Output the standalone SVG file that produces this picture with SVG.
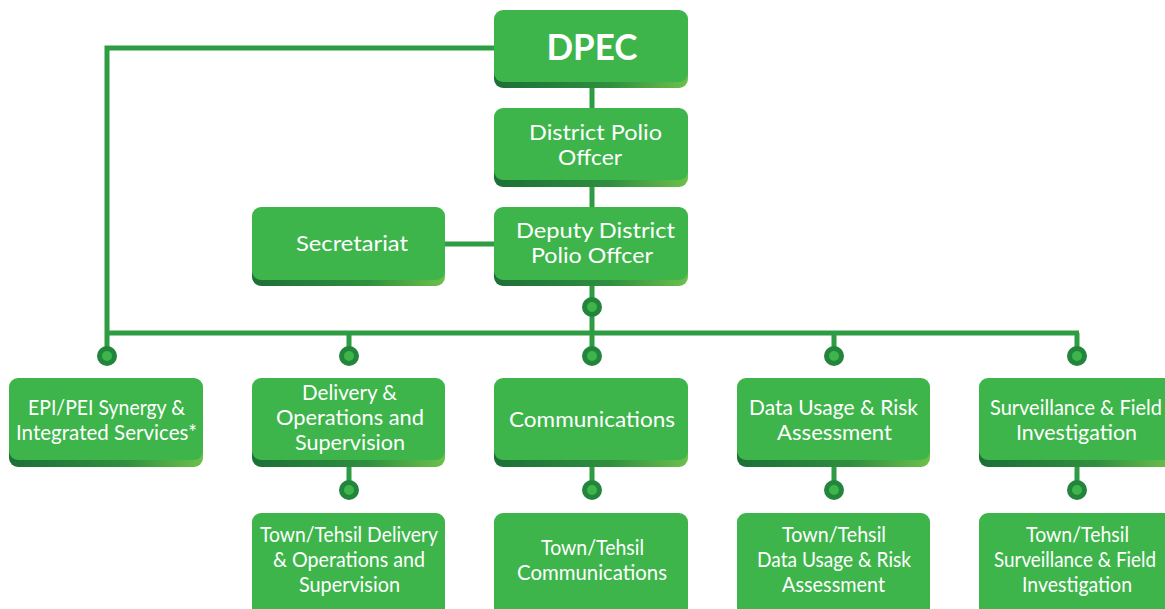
<svg xmlns="http://www.w3.org/2000/svg" width="1165" height="609" viewBox="0 0 1165 609">
<defs>
<linearGradient id="sh" x1="0" y1="0" x2="1" y2="0">
<stop offset="0" stop-color="#1c6f36"/>
<stop offset="0.6" stop-color="#2f8f3f"/>
<stop offset="1" stop-color="#6cc04a"/>
</linearGradient>
<style>
.face{fill:#3db54b}
.shadow{fill:url(#sh)}
.t{fill:#ffffff;font-family:Lato,"Open Sans","Liberation Sans",sans-serif;font-size:22px;text-anchor:middle}
.s{font-size:21px}
.big{font-size:36px;font-weight:bold}
.ln{stroke:#2e9c43;stroke-width:5;fill:none}
.dot{fill:#3db54b;stroke:#23853b;stroke-width:5}
</style>
</defs>
<rect width="1165" height="609" fill="#ffffff"/>
<g id="connectors">
<path class="ln" d="M494 48 H107 V333 M592 88 V108 M592 187 V207 M445 244 H494 M592 286 V298 M592 316 V333 M105 333 H1079 M107 333 V347 M349 333 V347 M592 333 V347 M834 333 V347 M1077 333 V347 M349 467 V481 M592 467 V481 M834 467 V481 M1077 467 V481"/>
<circle class="dot" cx="592" cy="307" r="7.5"/>
<circle class="dot" cx="107" cy="356" r="7.5"/>
<circle class="dot" cx="349" cy="356" r="7.5"/>
<circle class="dot" cx="592" cy="356" r="7.5"/>
<circle class="dot" cx="834" cy="356" r="7.5"/>
<circle class="dot" cx="1077" cy="356" r="7.5"/>
<circle class="dot" cx="349" cy="490" r="7.5"/>
<circle class="dot" cx="592" cy="490" r="7.5"/>
<circle class="dot" cx="834" cy="490" r="7.5"/>
<circle class="dot" cx="1077" cy="490" r="7.5"/>
</g>
<g id="dpec">
<rect class="shadow" x="494" y="16" width="194" height="72" rx="9"/>
<rect class="face" x="494" y="10" width="194" height="72" rx="9"/>
<text class="t big" x="592" y="60" textLength="91" lengthAdjust="spacingAndGlyphs">DPEC</text>
</g>
<g id="dpo">
<rect class="shadow" x="494" y="115" width="194" height="72" rx="9"/>
<rect class="face" x="494" y="108" width="194" height="72" rx="9"/>
<text class="t" x="595.5" y="140" textLength="133" lengthAdjust="spacingAndGlyphs">District Polio</text>
<text class="t" x="590" y="165" textLength="64" lengthAdjust="spacingAndGlyphs">Offcer</text>
</g>
<g id="secretariat">
<rect class="shadow" x="252" y="214" width="193" height="72" rx="9"/>
<rect class="face" x="252" y="207" width="193" height="73" rx="9"/>
<text class="t" x="352" y="251" textLength="112" lengthAdjust="spacingAndGlyphs">Secretariat</text>
</g>
<g id="ddpo">
<rect class="shadow" x="494" y="214" width="194" height="72" rx="9"/>
<rect class="face" x="494" y="207" width="194" height="73" rx="9"/>
<text class="t" x="595.5" y="238" textLength="159" lengthAdjust="spacingAndGlyphs">Deputy District</text>
<text class="t" x="592" y="263" textLength="122" lengthAdjust="spacingAndGlyphs">Polio Offcer</text>
</g>
<g id="epi">
<rect class="shadow" x="9" y="385" width="194" height="82" rx="9"/>
<rect class="face" x="9" y="378" width="194" height="82" rx="9"/>
<text class="t" x="106.5" y="415" textLength="157" lengthAdjust="spacingAndGlyphs">EPI/PEI Synergy &amp;</text>
<text class="t" x="106.5" y="440" textLength="181" lengthAdjust="spacingAndGlyphs">Integrated Services*</text>
</g>
<g id="delivery">
<rect class="shadow" x="252" y="385" width="193" height="82" rx="9"/>
<rect class="face" x="252" y="378" width="193" height="82" rx="9"/>
<text class="t" x="349.5" y="400" textLength="95" lengthAdjust="spacingAndGlyphs">Delivery &amp;</text>
<text class="t" x="350" y="425" textLength="148" lengthAdjust="spacingAndGlyphs">Operations and</text>
<text class="t" x="350" y="450" textLength="110" lengthAdjust="spacingAndGlyphs">Supervision</text>
</g>
<g id="communications">
<rect class="shadow" x="494" y="385" width="194" height="82" rx="9"/>
<rect class="face" x="494" y="378" width="194" height="82" rx="9"/>
<text class="t" x="592" y="427" textLength="166" lengthAdjust="spacingAndGlyphs">Communications</text>
</g>
<g id="data">
<rect class="shadow" x="737" y="385" width="193" height="82" rx="9"/>
<rect class="face" x="737" y="378" width="193" height="82" rx="9"/>
<text class="t" x="833.5" y="415" textLength="169" lengthAdjust="spacingAndGlyphs">Data Usage &amp; Risk</text>
<text class="t" x="834.5" y="440" textLength="115" lengthAdjust="spacingAndGlyphs">Assessment</text>
</g>
<g id="surveillance">
<rect class="shadow" x="979" y="385" width="194" height="82" rx="9"/>
<rect class="face" x="979" y="378" width="194" height="82" rx="9"/>
<text class="t" x="1076" y="415" font-size="19.5" textLength="172" lengthAdjust="spacingAndGlyphs">Surveillance &amp; Field</text>
<text class="t" x="1076.5" y="440" textLength="121" lengthAdjust="spacingAndGlyphs">Investigation</text>
</g>
<g id="town-delivery">
<rect class="face" x="252" y="513" width="193" height="110" rx="9"/>
<text class="t s" x="349" y="542" textLength="178" lengthAdjust="spacingAndGlyphs">Town/Tehsil Delivery</text>
<text class="t s" x="349" y="567" textLength="152" lengthAdjust="spacingAndGlyphs">&amp; Operations and</text>
<text class="t s" x="349.5" y="592" textLength="101" lengthAdjust="spacingAndGlyphs">Supervision</text>
</g>
<g id="town-communications">
<rect class="face" x="494" y="513" width="194" height="110" rx="9"/>
<text class="t s" x="592.5" y="555" textLength="103" lengthAdjust="spacingAndGlyphs">Town/Tehsil</text>
<text class="t s" x="592" y="580" textLength="150" lengthAdjust="spacingAndGlyphs">Communications</text>
</g>
<g id="town-data">
<rect class="face" x="737" y="513" width="193" height="110" rx="9"/>
<text class="t s" x="834" y="542" textLength="104" lengthAdjust="spacingAndGlyphs">Town/Tehsil</text>
<text class="t s" x="834" y="567" textLength="154" lengthAdjust="spacingAndGlyphs">Data Usage &amp; Risk</text>
<text class="t s" x="833.5" y="592" textLength="103" lengthAdjust="spacingAndGlyphs">Assessment</text>
</g>
<g id="town-surveillance">
<rect class="face" x="979" y="513" width="194" height="110" rx="9"/>
<text class="t s" x="1077.5" y="542" textLength="103" lengthAdjust="spacingAndGlyphs">Town/Tehsil</text>
<text class="t" x="1075" y="567" font-size="19" textLength="162" lengthAdjust="spacingAndGlyphs">Surveillance &amp; Field</text>
<text class="t s" x="1077" y="592" textLength="110" lengthAdjust="spacingAndGlyphs">Investigation</text>
</g>
</svg>
